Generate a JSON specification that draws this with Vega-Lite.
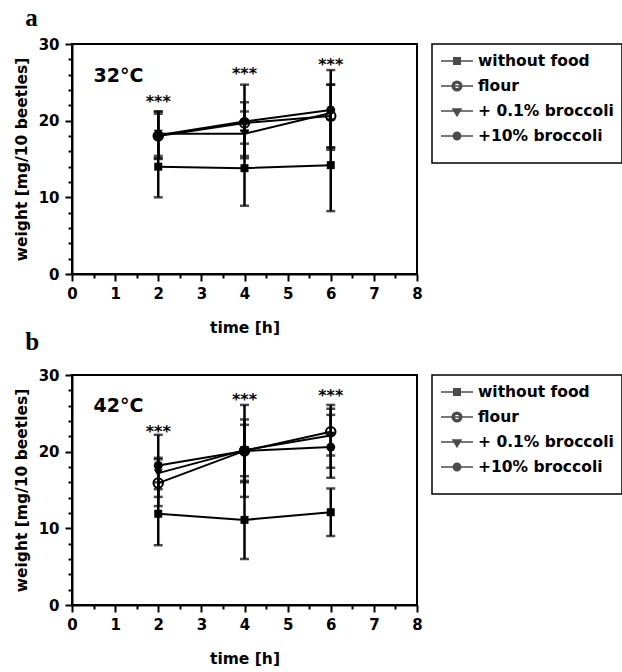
{
  "$schema": "https://vega.github.io/schema/vega-lite/v6.json",
  "padding": {"left": 13, "top": 5, "right": 0, "bottom": 2},
  "background": "white",
  "config": {
    "view": {"stroke": "black", "strokeWidth": 2},
    "axis": {
      "domainColor": "black", "domainWidth": 2, "tickColor": "black", "tickWidth": 2,
      "labelFont": "DejaVu Sans", "labelFontWeight": "bold", "labelFontSize": 15, "labelColor": "black",
      "titleFont": "DejaVu Sans", "titleFontWeight": "bold", "titleFontSize": 15.5, "titleColor": "black",
      "grid": false, "labelOverlap": false, "labelFlush": false
    },
    "legend": {
      "orient": "right", "offset": 15, "padding": 8, "strokeColor": "black", "strokeWidth": 1.5,
      "labelFont": "DejaVu Sans", "labelFontWeight": "bold", "labelFontSize": 15.5, "labelColor": "black",
      "symbolSize": 256, "rowPadding": 7, "labelOffset": 20, "labelLimit": 200,
      "titleOrient": "bottom", "titleFontSize": 10, "titlePadding": 0
    },
    "title": {"font": "Liberation Serif", "fontSize": 25, "fontWeight": "bold", "color": "black", "anchor": "start", "frame": "bounds", "baseline": "alphabetic", "dx": 11}
  },
  "datasets": {
    "dA": [
      {"s": "without food", "t": 2, "w": 14.0, "lo": 10.0, "hi": 18.0},
      {"s": "without food", "t": 4, "w": 13.8, "lo": 8.9, "hi": 18.7},
      {"s": "without food", "t": 6, "w": 14.2, "lo": 8.2, "hi": 20.2},
      {"s": "flour", "t": 2, "w": 18.0, "lo": 15.1, "hi": 20.9},
      {"s": "flour", "t": 4, "w": 19.7, "lo": 17.0, "hi": 22.4},
      {"s": "flour", "t": 6, "w": 20.6, "lo": 16.5, "hi": 24.7},
      {"s": "+ 0.1% broccoli", "t": 2, "w": 18.3, "lo": 15.4, "hi": 21.2},
      {"s": "+ 0.1% broccoli", "t": 4, "w": 18.3, "lo": 15.4, "hi": 21.2},
      {"s": "+ 0.1% broccoli", "t": 6, "w": 21.0, "lo": 16.5, "hi": 24.7},
      {"s": "+10% broccoli", "t": 2, "w": 18.1, "lo": 15.0, "hi": 21.2},
      {"s": "+10% broccoli", "t": 4, "w": 19.9, "lo": 15.1, "hi": 24.7},
      {"s": "+10% broccoli", "t": 6, "w": 21.4, "lo": 16.2, "hi": 26.6}
    ],
    "dB": [
      {"s": "without food", "t": 2, "w": 11.9, "lo": 7.8, "hi": 16.0},
      {"s": "without food", "t": 4, "w": 11.1, "lo": 6.0, "hi": 16.2},
      {"s": "without food", "t": 6, "w": 12.1, "lo": 9.0, "hi": 15.2},
      {"s": "flour", "t": 2, "w": 15.9, "lo": 12.9, "hi": 19.0},
      {"s": "flour", "t": 4, "w": 20.1, "lo": 14.1, "hi": 26.1},
      {"s": "flour", "t": 6, "w": 22.6, "lo": 19.5, "hi": 26.1},
      {"s": "+ 0.1% broccoli", "t": 2, "w": 17.2, "lo": 15.1, "hi": 19.2},
      {"s": "+ 0.1% broccoli", "t": 4, "w": 20.2, "lo": 16.0, "hi": 24.2},
      {"s": "+ 0.1% broccoli", "t": 6, "w": 22.1, "lo": 17.9, "hi": 25.6},
      {"s": "+10% broccoli", "t": 2, "w": 18.2, "lo": 14.1, "hi": 22.2},
      {"s": "+10% broccoli", "t": 4, "w": 20.1, "lo": 16.8, "hi": 23.5},
      {"s": "+10% broccoli", "t": 6, "w": 20.6, "lo": 16.6, "hi": 24.8}
    ],
    "sA": [
      {"t": 2, "y": 21.8, "label": "***"},
      {"t": 4, "y": 25.5, "label": "***"},
      {"t": 6, "y": 26.6, "label": "***"}
    ],
    "sB": [
      {"t": 2, "y": 21.9, "label": "***"},
      {"t": 4, "y": 26.1, "label": "***"},
      {"t": 6, "y": 26.6, "label": "***"}
    ],
    "cA": [{"t": 0.5, "y": 25.1, "label": "32°C"}],
    "cB": [{"t": 0.5, "y": 25.2, "label": "42°C"}]
  },
  "resolve": {"scale": {"shape": "independent"}, "legend": {"shape": "independent"}},
  "spacing": -8,
  "vconcat": [
    {
      "title": {"text": "a", "offset": 6},
      "width": 345, "height": 230,
      "resolve": {"axis": {"x": "independent", "y": "independent"}},
      "layer": [
        {
          "data": {"name": "dA"},
          "mark": {"type": "rule", "color": "black", "strokeWidth": 2.5},
          "encoding": {
            "x": {"field": "t", "type": "quantitative", "scale": {"domain": [0, 8], "nice": false},
              "axis": {"orient": "bottom", "values": [0, 1, 2, 3, 4, 5, 6, 7, 8], "tickSize": 7, "labelPadding": 5, "title": "time [h]", "titlePadding": 19}},
            "y": {"field": "lo", "type": "quantitative", "scale": {"domain": [0, 30], "nice": false},
              "axis": {"orient": "left", "values": [0, 10, 20, 30], "tickSize": 7, "labelPadding": 6, "title": "weight [mg/10 beetles]", "titlePadding": 9}},
            "y2": {"field": "hi"}
          }
        },
        {
          "data": {"name": "dA"},
          "mark": {"type": "tick", "orient": "horizontal", "color": "black", "size": 9, "thickness": 2.5},
          "encoding": {
            "x": {"field": "t", "type": "quantitative",
              "axis": {"orient": "bottom", "values": [0.5, 1.5, 2.5, 3.5, 4.5, 5.5, 6.5, 7.5], "tickSize": 4, "labels": false, "domain": false, "title": null}},
            "y": {"field": "lo", "type": "quantitative",
              "axis": {"orient": "left", "values": [2, 4, 6, 8, 12, 14, 16, 18, 22, 24, 26, 28], "tickSize": 4, "labels": false, "domain": false, "title": null}}
          }
        },
        {
          "data": {"name": "dA"},
          "mark": {"type": "tick", "orient": "horizontal", "color": "black", "size": 9, "thickness": 2.5},
          "encoding": {"x": {"field": "t", "type": "quantitative", "axis": null}, "y": {"field": "hi", "type": "quantitative", "axis": null}}
        },
        {
          "data": {"name": "dA"},
          "mark": {"type": "line", "color": "black", "strokeWidth": 2},
          "encoding": {"x": {"field": "t", "type": "quantitative", "axis": null}, "y": {"field": "w", "type": "quantitative", "axis": null}, "detail": {"field": "s"}}
        },
        {
          "data": {"name": "dA"},
          "transform": [{"filter": "datum.s === 'without food'"}],
          "mark": {"type": "point", "shape": "square", "filled": true, "color": "black", "size": 64, "opacity": 1},
          "encoding": {"x": {"field": "t", "type": "quantitative", "axis": null}, "y": {"field": "w", "type": "quantitative", "axis": null}}
        },
        {
          "data": {"name": "dA"},
          "transform": [{"filter": "datum.s === 'flour'"}],
          "mark": {"type": "point", "shape": "circle", "filled": false, "fill": "transparent", "stroke": "black", "strokeWidth": 2, "size": 90, "opacity": 1},
          "encoding": {"x": {"field": "t", "type": "quantitative", "axis": null}, "y": {"field": "w", "type": "quantitative", "axis": null}}
        },
        {
          "data": {"name": "dA"},
          "transform": [{"filter": "datum.s === '+ 0.1% broccoli'"}],
          "mark": {"type": "point", "shape": "triangle-down", "filled": true, "color": "black", "size": 80, "opacity": 1},
          "encoding": {"x": {"field": "t", "type": "quantitative", "axis": null}, "y": {"field": "w", "type": "quantitative", "axis": null}}
        },
        {
          "data": {"name": "dA"},
          "transform": [{"filter": "datum.s === '+10% broccoli'"}],
          "mark": {"type": "point", "shape": "circle", "filled": true, "color": "black", "size": 80, "opacity": 1},
          "encoding": {"x": {"field": "t", "type": "quantitative", "axis": null}, "y": {"field": "w", "type": "quantitative", "axis": null}}
        },
        {
          "data": {"name": "sA"},
          "mark": {"type": "text", "font": "DejaVu Sans", "fontWeight": "bold", "fontSize": 16, "align": "center", "baseline": "alphabetic", "color": "black"},
          "encoding": {"x": {"field": "t", "type": "quantitative", "axis": null}, "y": {"field": "y", "type": "quantitative", "axis": null}, "text": {"field": "label"}}
        },
        {
          "data": {"name": "cA"},
          "mark": {"type": "text", "font": "DejaVu Sans", "fontWeight": "bold", "fontSize": 19, "align": "left", "baseline": "alphabetic", "color": "black"},
          "encoding": {"x": {"field": "t", "type": "quantitative", "axis": null}, "y": {"field": "y", "type": "quantitative", "axis": null}, "text": {"field": "label"}}
        },
        {
          "data": {"name": "dA"},
          "transform": [{"filter": "false"}],
          "mark": {"type": "point", "filled": false, "fill": "black", "stroke": "black", "strokeWidth": 2},
          "encoding": {
            "x": {"field": "t", "type": "quantitative", "axis": null}, "y": {"field": "w", "type": "quantitative", "axis": null},
            "shape": {"field": "s", "type": "nominal",
              "scale": {"domain": ["without food", "flour", "+ 0.1% broccoli", "+10% broccoli"],
                "range": ["M-1,0H3M0.59,-0.41H1.41V0.41H0.59Z", "M-1,0H3M1.6,0A0.6,0.6 0 1,1 0.4,0A0.6,0.6 0 1,1 1.6,0ZM1.36,0A0.36,0.36 0 1,0 0.64,0A0.36,0.36 0 1,0 1.36,0Z", "M-1,0H3M0.5,-0.24L1.5,-0.24L1,0.6Z", "M-1,0H3M1.46,0A0.46,0.46 0 1,1 0.54,0A0.46,0.46 0 1,1 1.46,0Z"]},
              "legend": {"title": " ", "encode": {"symbols": {"update": {"fill": {"value": "black"}, "stroke": {"value": "black"}, "strokeWidth": {"value": 2}, "opacity": {"value": 1}}}}}}
          }
        }
      ]
    },
    {
      "title": {"text": "b", "offset": 13},
      "width": 345, "height": 230,
      "resolve": {"axis": {"x": "independent", "y": "independent"}},
      "layer": [
        {
          "data": {"name": "dB"},
          "mark": {"type": "rule", "color": "black", "strokeWidth": 2.5},
          "encoding": {
            "x": {"field": "t", "type": "quantitative", "scale": {"domain": [0, 8], "nice": false},
              "axis": {"orient": "bottom", "values": [0, 1, 2, 3, 4, 5, 6, 7, 8], "tickSize": 7, "labelPadding": 5, "title": "time [h]", "titlePadding": 19}},
            "y": {"field": "lo", "type": "quantitative", "scale": {"domain": [0, 30], "nice": false},
              "axis": {"orient": "left", "values": [0, 10, 20, 30], "tickSize": 7, "labelPadding": 6, "title": "weight [mg/10 beetles]", "titlePadding": 9}},
            "y2": {"field": "hi"}
          }
        },
        {
          "data": {"name": "dB"},
          "mark": {"type": "tick", "orient": "horizontal", "color": "black", "size": 9, "thickness": 2.5},
          "encoding": {
            "x": {"field": "t", "type": "quantitative",
              "axis": {"orient": "bottom", "values": [0.5, 1.5, 2.5, 3.5, 4.5, 5.5, 6.5, 7.5], "tickSize": 4, "labels": false, "domain": false, "title": null}},
            "y": {"field": "lo", "type": "quantitative",
              "axis": {"orient": "left", "values": [2, 4, 6, 8, 12, 14, 16, 18, 22, 24, 26, 28], "tickSize": 4, "labels": false, "domain": false, "title": null}}
          }
        },
        {
          "data": {"name": "dB"},
          "mark": {"type": "tick", "orient": "horizontal", "color": "black", "size": 9, "thickness": 2.5},
          "encoding": {"x": {"field": "t", "type": "quantitative", "axis": null}, "y": {"field": "hi", "type": "quantitative", "axis": null}}
        },
        {
          "data": {"name": "dB"},
          "mark": {"type": "line", "color": "black", "strokeWidth": 2},
          "encoding": {"x": {"field": "t", "type": "quantitative", "axis": null}, "y": {"field": "w", "type": "quantitative", "axis": null}, "detail": {"field": "s"}}
        },
        {
          "data": {"name": "dB"},
          "transform": [{"filter": "datum.s === 'without food'"}],
          "mark": {"type": "point", "shape": "square", "filled": true, "color": "black", "size": 64, "opacity": 1},
          "encoding": {"x": {"field": "t", "type": "quantitative", "axis": null}, "y": {"field": "w", "type": "quantitative", "axis": null}}
        },
        {
          "data": {"name": "dB"},
          "transform": [{"filter": "datum.s === 'flour'"}],
          "mark": {"type": "point", "shape": "circle", "filled": false, "fill": "transparent", "stroke": "black", "strokeWidth": 2, "size": 90, "opacity": 1},
          "encoding": {"x": {"field": "t", "type": "quantitative", "axis": null}, "y": {"field": "w", "type": "quantitative", "axis": null}}
        },
        {
          "data": {"name": "dB"},
          "transform": [{"filter": "datum.s === '+ 0.1% broccoli'"}],
          "mark": {"type": "point", "shape": "triangle-down", "filled": true, "color": "black", "size": 80, "opacity": 1},
          "encoding": {"x": {"field": "t", "type": "quantitative", "axis": null}, "y": {"field": "w", "type": "quantitative", "axis": null}}
        },
        {
          "data": {"name": "dB"},
          "transform": [{"filter": "datum.s === '+10% broccoli'"}],
          "mark": {"type": "point", "shape": "circle", "filled": true, "color": "black", "size": 80, "opacity": 1},
          "encoding": {"x": {"field": "t", "type": "quantitative", "axis": null}, "y": {"field": "w", "type": "quantitative", "axis": null}}
        },
        {
          "data": {"name": "sB"},
          "mark": {"type": "text", "font": "DejaVu Sans", "fontWeight": "bold", "fontSize": 16, "align": "center", "baseline": "alphabetic", "color": "black"},
          "encoding": {"x": {"field": "t", "type": "quantitative", "axis": null}, "y": {"field": "y", "type": "quantitative", "axis": null}, "text": {"field": "label"}}
        },
        {
          "data": {"name": "cB"},
          "mark": {"type": "text", "font": "DejaVu Sans", "fontWeight": "bold", "fontSize": 19, "align": "left", "baseline": "alphabetic", "color": "black"},
          "encoding": {"x": {"field": "t", "type": "quantitative", "axis": null}, "y": {"field": "y", "type": "quantitative", "axis": null}, "text": {"field": "label"}}
        },
        {
          "data": {"name": "dB"},
          "transform": [{"filter": "false"}],
          "mark": {"type": "point", "filled": false, "fill": "black", "stroke": "black", "strokeWidth": 2},
          "encoding": {
            "x": {"field": "t", "type": "quantitative", "axis": null}, "y": {"field": "w", "type": "quantitative", "axis": null},
            "shape": {"field": "s", "type": "nominal",
              "scale": {"domain": ["without food", "flour", "+ 0.1% broccoli", "+10% broccoli"],
                "range": ["M-1,0H3M0.59,-0.41H1.41V0.41H0.59Z", "M-1,0H3M1.6,0A0.6,0.6 0 1,1 0.4,0A0.6,0.6 0 1,1 1.6,0ZM1.36,0A0.36,0.36 0 1,0 0.64,0A0.36,0.36 0 1,0 1.36,0Z", "M-1,0H3M0.5,-0.24L1.5,-0.24L1,0.6Z", "M-1,0H3M1.46,0A0.46,0.46 0 1,1 0.54,0A0.46,0.46 0 1,1 1.46,0Z"]},
              "legend": {"title": " ", "encode": {"symbols": {"update": {"fill": {"value": "black"}, "stroke": {"value": "black"}, "strokeWidth": {"value": 2}, "opacity": {"value": 1}}}}}}
          }
        }
      ]
    }
  ]
}
